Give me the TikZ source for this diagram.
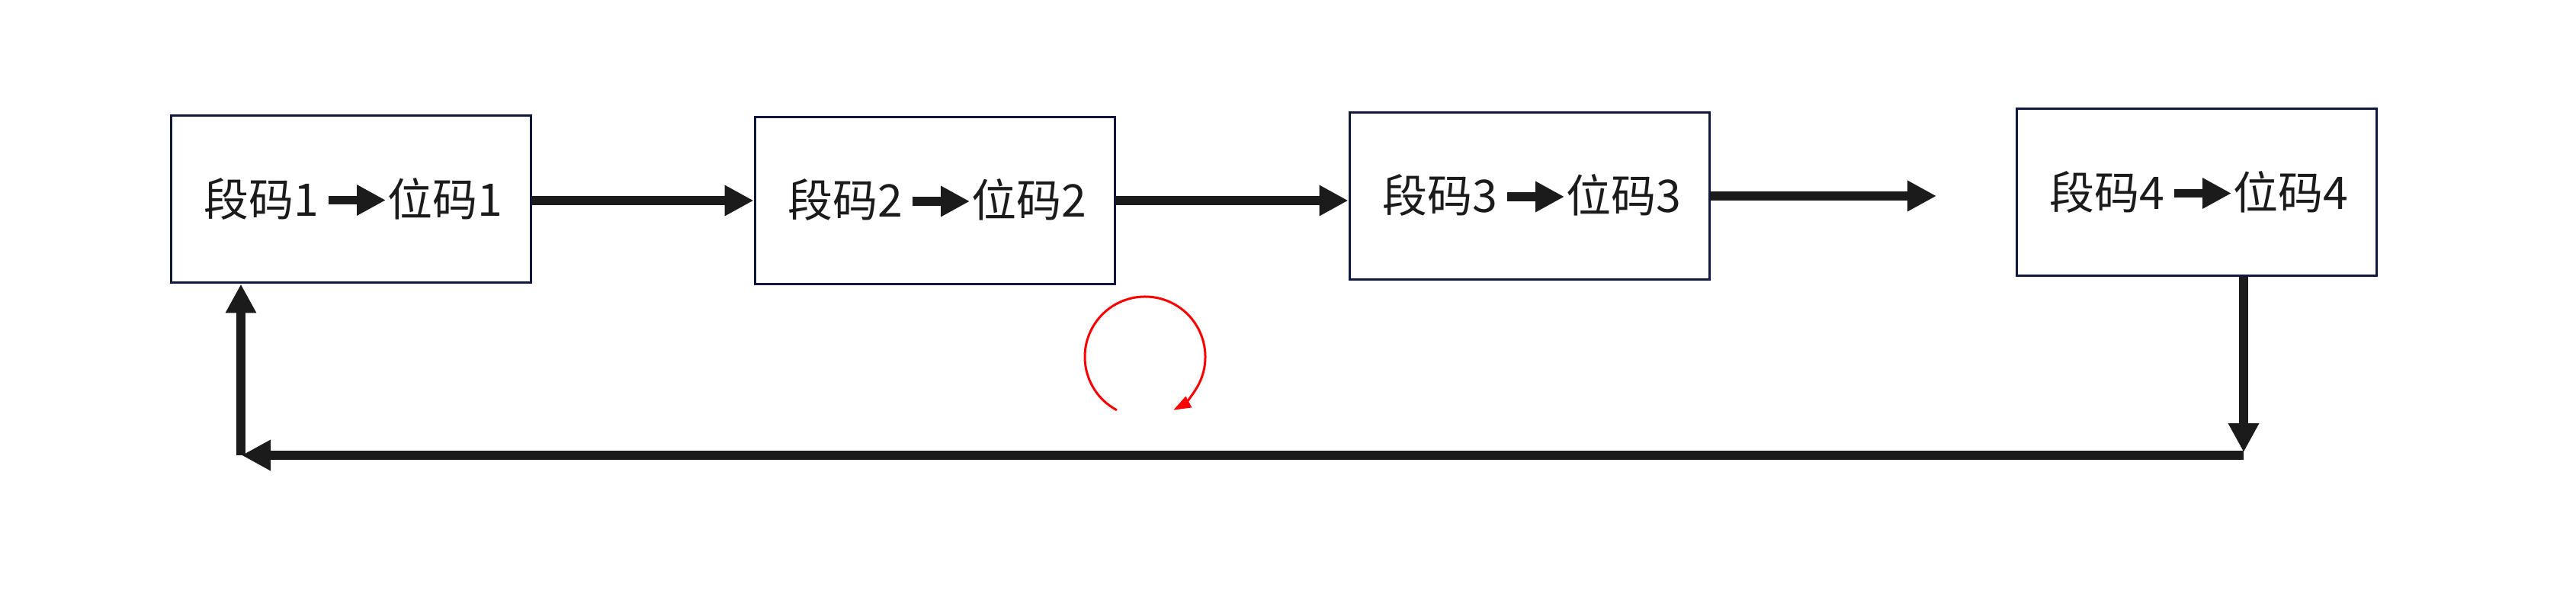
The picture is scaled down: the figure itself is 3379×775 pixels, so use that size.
\documentclass[tikz,border=0pt]{standalone}
\usepackage{fontspec}
\setmainfont{Noto Sans CJK SC}
\usetikzlibrary{arrows.meta,calc}
\definecolor{boxline}{HTML}{101840}
\definecolor{ink}{HTML}{1B1B1B}
\definecolor{loopred}{HTML}{FF0000}
\begin{document}
\begin{tikzpicture}[x=1pt,y=-1pt,
  stage/.style={draw=boxline, line width=3pt, minimum width=472pt, minimum height=219pt, inner sep=0pt},
  lbl/.style={inner sep=0pt, font=\fontsize{59}{64}\selectfont, text=ink},
  flow/.style={draw=ink, line width=11.5pt, -{Triangle[length=38pt,width=38pt]}},
  loop/.style={draw=loopred, line width=3pt, -{Triangle[length=23pt,width=16pt]}}]
\fill[white] (0,0) rectangle (3379,775);
\useasboundingbox (0,0) rectangle (3379,775);
\foreach \i/\x/\y in {1/460/261.5, 2/1226/263, 3/2006/257, 4/2881/252.5}{
  \node[stage] (s\i) at (\x,\y) {};
  \coordinate (t\i s) at ($(s\i.center)+(-29,1)$);
  \coordinate (t\i e) at ($(s\i.center)+(46,1)$);
  \node[lbl, anchor=base east] (a\i) at ($(s\i.center)+(-42,22)$) {段码\i};
  \node[lbl, anchor=base west] (b\i) at ($(s\i.center)+(48,22)$) {位码\i};
  \draw[flow] (t\i s) -- (t\i e);
}
\draw[flow] (s1.east |- s2.west) -- (s2.west);
\draw[flow] (s2.east) -- (s2.east -| s3.west);
\coordinate (e3) at (2540,257);
\draw[flow] (s3.east |- e3) -- (e3);
\coordinate (d4) at (2943,593);
\draw[flow] (s4.south -| d4) -- (d4);
\coordinate (bR) at (2943,597);
\coordinate (bL) at (317,597);
\draw[flow] (bR) -- (bL);
\coordinate (uL) at (316,597);
\draw[flow] (uL) -- (uL |- s1.south);
\coordinate (rc) at (1502,468);
\draw[loop] ($(rc)+(118:79)$) arc[start angle=118, end angle=422, radius=79];
\end{tikzpicture}
\end{document}
